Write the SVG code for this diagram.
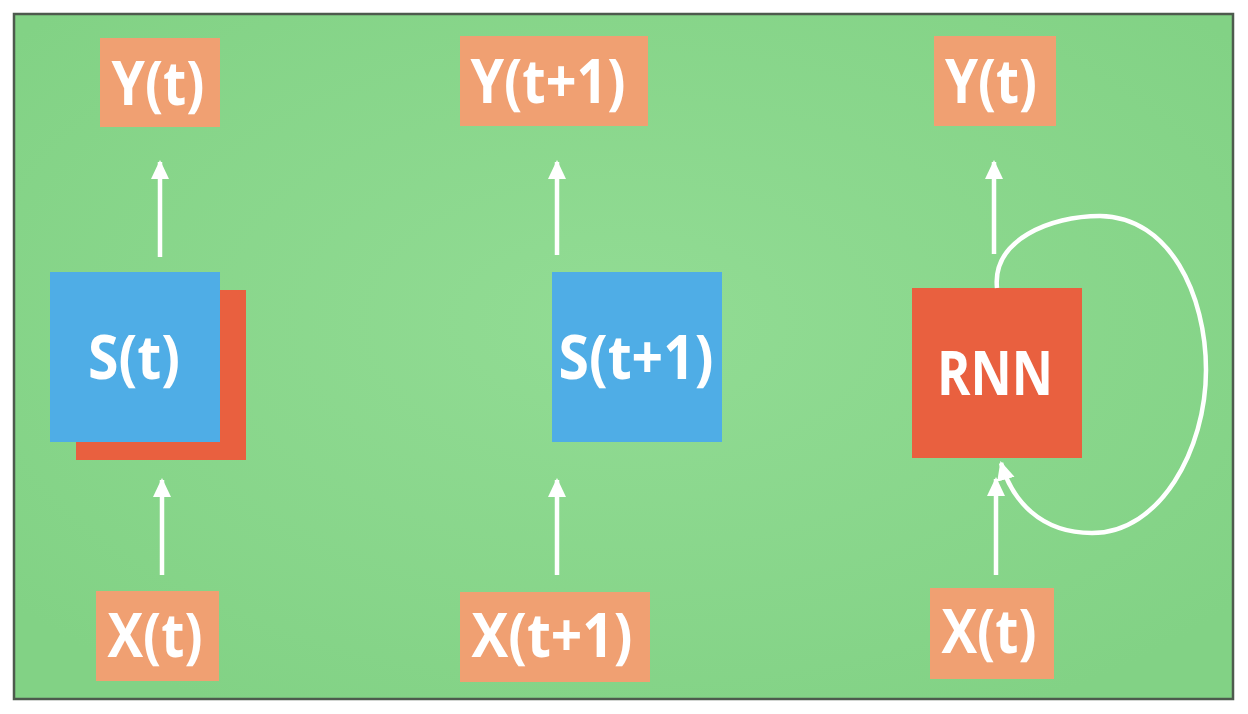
<svg xmlns="http://www.w3.org/2000/svg" width="1248" height="714" viewBox="0 0 1248 714">
<style>
.io{fill:#f0a072}
.blue{fill:#4fade6}
.red{fill:#e9603f}
.lbl{font-family:"Open Sans","Liberation Sans",sans-serif;font-weight:bold;font-size:61px;fill:#ffffff;text-anchor:middle}
.arr{stroke:#ffffff;stroke-width:4.5;fill:none;marker-end:url(#ah)}
</style>
<defs>
<radialGradient id="bg" cx="50%" cy="45%" r="65%">
<stop offset="0" stop-color="#92dc94"/>
<stop offset="1" stop-color="#82d285"/>
</radialGradient>
<marker id="ah" markerUnits="userSpaceOnUse" markerWidth="22" markerHeight="22" viewBox="0 0 22 22" refX="17" refY="11" orient="auto">
<path d="M0,2 L19,11 L0,20 Z" fill="#ffffff"/>
</marker>
</defs>
<rect x="0" y="0" width="1248" height="714" fill="#ffffff"/>
<rect x="14" y="14" width="1219" height="685" fill="url(#bg)" stroke="#4d5a4d" stroke-width="2.5"/>

<g id="y1"><rect class="io" x="100" y="38" width="120" height="89"/><text class="lbl" x="158" y="105" textLength="93" lengthAdjust="spacingAndGlyphs">Y(t)</text></g>
<g id="y2"><rect class="io" x="460" y="36" width="188" height="90"/><text class="lbl" x="548" y="103" textLength="155" lengthAdjust="spacingAndGlyphs">Y(t+1)</text></g>
<g id="y3"><rect class="io" x="934" y="36" width="122" height="90"/><text class="lbl" x="991" y="103" textLength="92" lengthAdjust="spacingAndGlyphs">Y(t)</text></g>

<g id="s1"><rect class="red" x="76" y="290" width="170" height="170"/><rect class="blue" x="50" y="272" width="170" height="170"/><text class="lbl" x="134" y="379" textLength="92" lengthAdjust="spacingAndGlyphs">S(t)</text></g>
<g id="s2"><rect class="blue" x="552" y="272" width="170" height="170"/><text class="lbl" x="636" y="379" textLength="155" lengthAdjust="spacingAndGlyphs">S(t+1)</text></g>
<g id="rnn"><rect class="red" x="912" y="288" width="170" height="170"/><text class="lbl" x="995" y="395" textLength="116" lengthAdjust="spacingAndGlyphs">RNN</text></g>

<g id="x1"><rect class="io" x="96" y="591" width="123" height="90"/><text class="lbl" x="155" y="657" textLength="95" lengthAdjust="spacingAndGlyphs">X(t)</text></g>
<g id="x2"><rect class="io" x="460" y="592" width="190" height="90"/><text class="lbl" x="552" y="657" textLength="161" lengthAdjust="spacingAndGlyphs">X(t+1)</text></g>
<g id="x3"><rect class="io" x="930" y="588" width="124" height="91"/><text class="lbl" x="989" y="653" textLength="95" lengthAdjust="spacingAndGlyphs">X(t)</text></g>

<g id="connectors">
<line class="arr" x1="160" y1="257" x2="160" y2="162"/>
<line class="arr" x1="162" y1="575" x2="162" y2="480"/>
<line class="arr" x1="557" y1="255" x2="557" y2="162"/>
<line class="arr" x1="557" y1="575" x2="557" y2="480"/>
<line class="arr" x1="994" y1="254" x2="994" y2="162"/>
<line class="arr" x1="996" y1="575" x2="996" y2="479"/>
<path class="arr" d="M997,288 C992,240 1050,216 1100,216 C1170,217 1206,295 1206,370 C1206,450 1160,533 1092,533 C1040,533 1012,500 1001,463"/>
</g>
</svg>
